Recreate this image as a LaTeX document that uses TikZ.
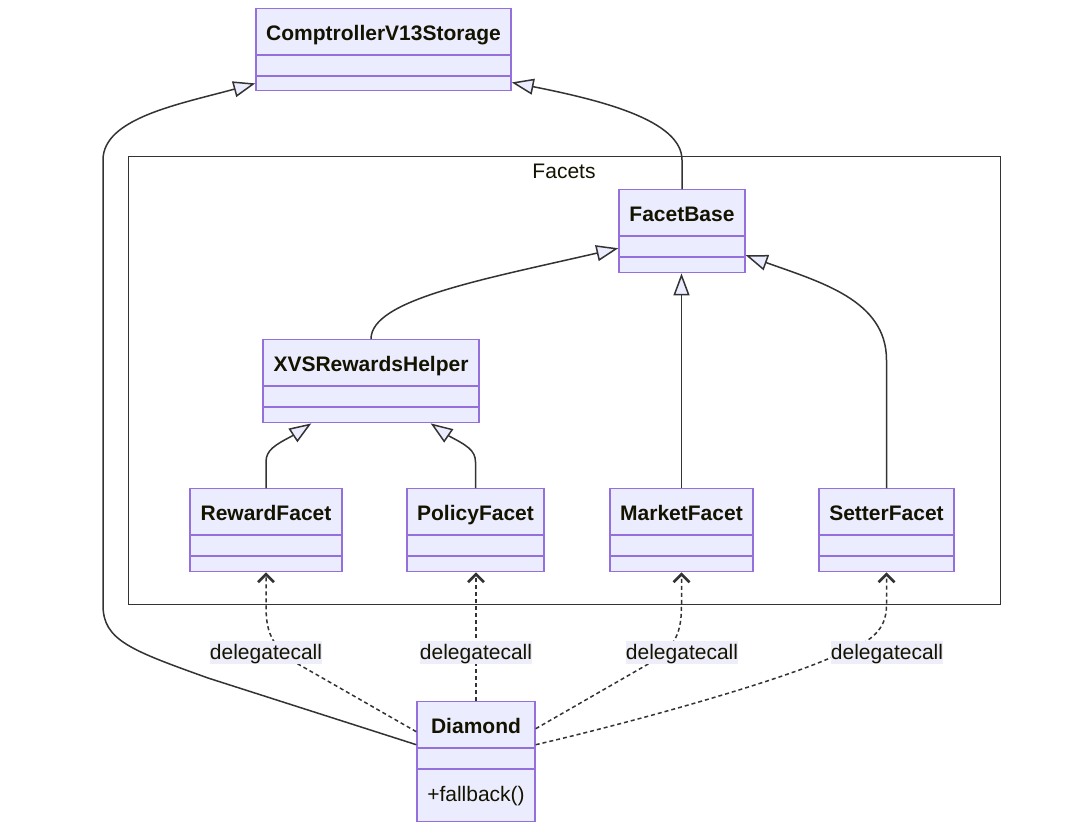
\documentclass[tikz,border=0pt]{standalone}
\usepackage{fontspec}
\setmainfont{Liberation Sans}
\usetikzlibrary{arrows.meta,calc}
\definecolor{classfill}{HTML}{ECECFF}
\definecolor{classdraw}{HTML}{9370DB}
\definecolor{edgecol}{HTML}{333333}
\definecolor{txt}{HTML}{131300}
\definecolor{lblfill}{HTML}{EEEEFA}
\newcommand\umlclass[6]{% name, cx, top, width, height, title
  \node[classbox, minimum width=#4pt, minimum height=#5pt, anchor=north] (#1) at (#2,#3) {};
  \draw[classdiv] ([yshift=-47pt]#1.north west) -- ([yshift=-47pt]#1.north east);
  \draw[classdiv] ([yshift=-68pt]#1.north west) -- ([yshift=-68pt]#1.north east);
  \node[classtitle] (#1-title) at ([yshift=-32pt]#1.north) {#6};
}
\tikzset{
  every node/.style={font=\fontsize{21}{25}\selectfont, text=txt},
  classbox/.style={draw=classdraw, fill=classfill, line width=1.4pt, inner sep=0pt, rectangle},
  classdiv/.style={draw=classdraw, line width=1.4pt},
  classtitle/.style={anchor=base, font=\fontsize{21}{25}\selectfont\bfseries, inner sep=0pt},
  cluster/.style={draw=edgecol, line width=1.4pt, fill=white, inner sep=0pt, rectangle},
  inh/.style={draw=edgecol, line width=1.5pt, -{Triangle[length=22pt,width=16pt,fill=classfill]}},
  dep/.style={draw=edgecol, line width=1.5pt, dash pattern=on 4pt off 3pt, -{Straight Barb[length=8pt,width=16pt,line width=2.6pt]}},
  lbl/.style={fill=lblfill, inner sep=0pt, minimum width=112pt, minimum height=23pt, text height=15pt, text depth=1pt},
}
\begin{document}
\begin{tikzpicture}[x=1pt,y=-1pt]
\useasboundingbox[fill=white] (0,0) rectangle (1088,822);
% cluster
\node[cluster, minimum width=872pt, minimum height=448pt, anchor=north west] (facets) at (128,156) {};
\node[anchor=base, inner sep=0pt] (facets-label) at (564,178.5) {Facets};
% classes
\umlclass{cvs}{383.5}{8}{255}{82}{ComptrollerV13Storage}
\umlclass{fb}{682}{189}{126}{83}{FacetBase}
\umlclass{xvs}{371}{339}{216}{83}{XVSRewardsHelper}
\umlclass{rf}{266}{488}{152}{83}{RewardFacet}
\umlclass{pf}{475.5}{488}{137}{83}{PolicyFacet}
\umlclass{mf}{681.5}{488}{143}{83}{MarketFacet}
\umlclass{sf}{886.5}{488}{135}{83}{SetterFacet}
\umlclass{dia}{476}{701}{118}{120}{Diamond}
\node[anchor=base, inner sep=0pt] (dia-op) at ([yshift=-100pt]dia.north) {+fallback()};
% inheritance
\draw[inh] ([yshift=17pt]dia.west) -- (208,678) .. controls (130,650) and (103,640) .. (103,605)
  -- (103,160) .. controls (103,118) and (180,104) .. ([yshift=8pt]cvs.south west);
\draw[inh] (fb.north) -- (682,160) .. controls (682,120) and (600,100) .. ([yshift=9pt]cvs.south east);
\draw[inh] (xvs.north) .. controls (371,300) and (480,280) .. ([yshift=-17pt]fb.west);
\draw[inh] (mf.north) -- (mf.north |- fb.south);
\draw[inh] (sf.north) -- (886.5,360) .. controls (886.5,300) and (820,282) .. ([yshift=-24pt]fb.east);
\draw[inh] (rf.north) -- (266,462) .. controls (266,450) and (275,445) .. (292,436) -- ([xshift=49pt]xvs.south west);
\draw[inh] (pf.north) -- (475.5,462) .. controls (475.5,450) and (466,445) .. (449,436) -- ([xshift=-49pt]xvs.south east);
% dependencies
\draw[dep] ([yshift=30pt]dia.west) -- (298,664) .. controls (270,646) and (266,630) .. (266,605) -- (rf.south);
\draw[dep] (dia.north) -- (dia.north |- pf.south);
\draw[dep] ([yshift=33pt]dia.east) -- (650,663) .. controls (676,647) and (681.5,632) .. (681.5,605) -- (mf.south);
\draw[dep] ([yshift=17pt]dia.east) .. controls (650,718) and (780,680) .. (830,658) .. controls (872,643) and (886.5,630) .. (886.5,605) -- (sf.south);
% labels
\node[lbl] (l1) at (266,652) {delegatecall};
\node[lbl] (l2) at (476,652) {delegatecall};
\node[lbl] (l3) at (682,652) {delegatecall};
\node[lbl] (l4) at (887,652) {delegatecall};
\end{tikzpicture}
\end{document}
